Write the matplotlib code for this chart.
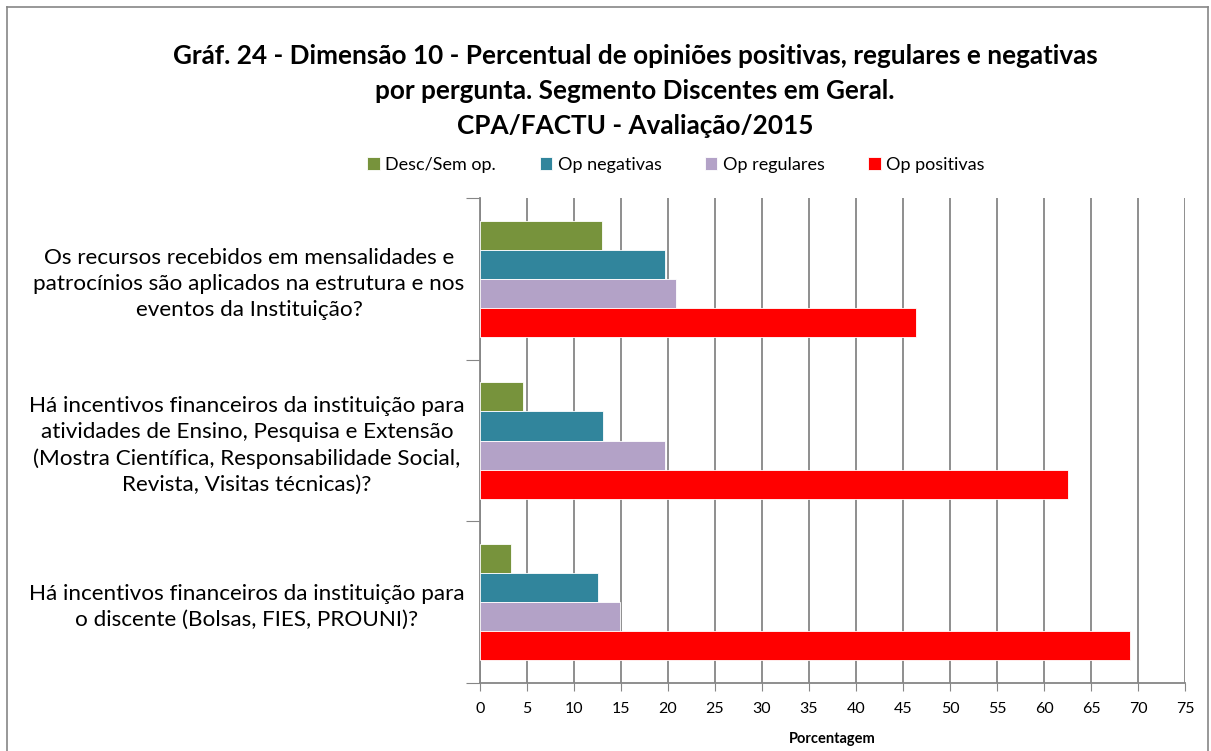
import matplotlib
matplotlib.use("Agg")
import matplotlib.pyplot as plt
from matplotlib.lines import Line2D
import numpy as np

# Dados
perguntas = [
    "Os recursos recebidos em mensalidades e\npatrocínios são aplicados na estrutura e nos\neventos da Instituição?",
    "Há incentivos financeiros da instituição para\natividades de Ensino, Pesquisa e Extensão\n(Mostra Científica, Responsabilidade Social,\nRevista, Visitas técnicas)?",
    "Há incentivos financeiros da instituição para\no discente (Bolsas, FIES, PROUNI)?",
]
series = ["Desc/Sem op.", "Op negativas", "Op regulares", "Op positivas"]
desc_sem_op = [13.0, 4.6, 3.3]
op_negativas = [19.7, 13.1, 12.6]
op_regulares = [20.8, 19.7, 14.9]
op_positivas = [46.4, 62.6, 69.2]
cores = ["#77933C", "#31859C", "#B3A2C7", "#FF0000"]
ticks_x = list(range(0, 80, 5))

titulo = ("Gráf. 24 - Dimensão 10 - Percentual de opiniões positivas, regulares e negativas\n"
          "por pergunta. Segmento Discentes em Geral.\n"
          "CPA/FACTU - Avaliação/2015")

plt.rcParams['font.family'] = ['Lato', 'DejaVu Sans']

W, H = 1211, 751
fig = plt.figure(figsize=(W / 100, H / 100), dpi=100)
ax = fig.add_axes([480 / W, 1 - 683 / H, 705 / W, 485 / H])

valores = [desc_sem_op, op_negativas, op_regulares, op_positivas]
y = np.arange(len(perguntas))
h = 0.18
for i, (nome, vals, cor) in enumerate(zip(series, valores, cores)):
    ax.barh(y + (i - 1.5) * h, vals, height=h, color=cor, edgecolor="white",
            linewidth=0.6, label=nome, zorder=3)

ax.set_xlim(0, 75)
ax.set_ylim(len(perguntas) - 0.5, -0.5)
ax.set_xticks(ticks_x)
ax.set_xticklabels([str(t) for t in ticks_x], fontsize=11.5)
ax.tick_params(axis="x", length=6, color="#868686", pad=8)

# marcas nas fronteiras das categorias, rótulos no centro
ax.set_yticks(np.arange(-0.5, len(perguntas), 1.0))
ax.set_yticklabels([])
ax.tick_params(axis="y", which="major", length=10, color="#868686")
ax.set_yticks(y, minor=True)
ax.set_yticklabels(perguntas, minor=True, fontsize=16.2, linespacing=1.38)
ax.tick_params(axis="y", which="minor", length=0, pad=11)
for lab in ax.get_yticklabels(minor=True):
    lab.set_multialignment("center")

ax.grid(axis="x", color="#868686", linewidth=1.3, zorder=0)
for s in ["top", "right"]:
    ax.spines[s].set_visible(False)
for s in ["left", "bottom"]:
    ax.spines[s].set_color("#868686")
    ax.spines[s].set_linewidth(1.3)

ax.set_xlabel("Porcentagem", fontsize=10.5, fontweight="bold", labelpad=11)

fig.text(635 / W, 1 - 91 / H, titulo, ha="center", va="center", fontsize=18.8,
         fontweight="bold", linespacing=1.55)

fig.legend(loc="center", bbox_to_anchor=(676 / W, 1 - 165 / H), ncol=4,
           frameon=False, fontsize=13, handlelength=0.7, handleheight=0.7,
           handletextpad=0.3, columnspacing=2.4)

# moldura do gráfico
borda = dict(color="#868686", linewidth=1.2, transform=fig.transFigure)
fig.add_artist(Line2D([7 / W, 1208 / W], [1 - 7 / H, 1 - 7 / H], **borda))
fig.add_artist(Line2D([7 / W, 7 / W], [1 - 7 / H, 0], **borda))
fig.add_artist(Line2D([1208 / W, 1208 / W], [1 - 7 / H, 0], **borda))

fig.savefig("out.png", dpi=100)
